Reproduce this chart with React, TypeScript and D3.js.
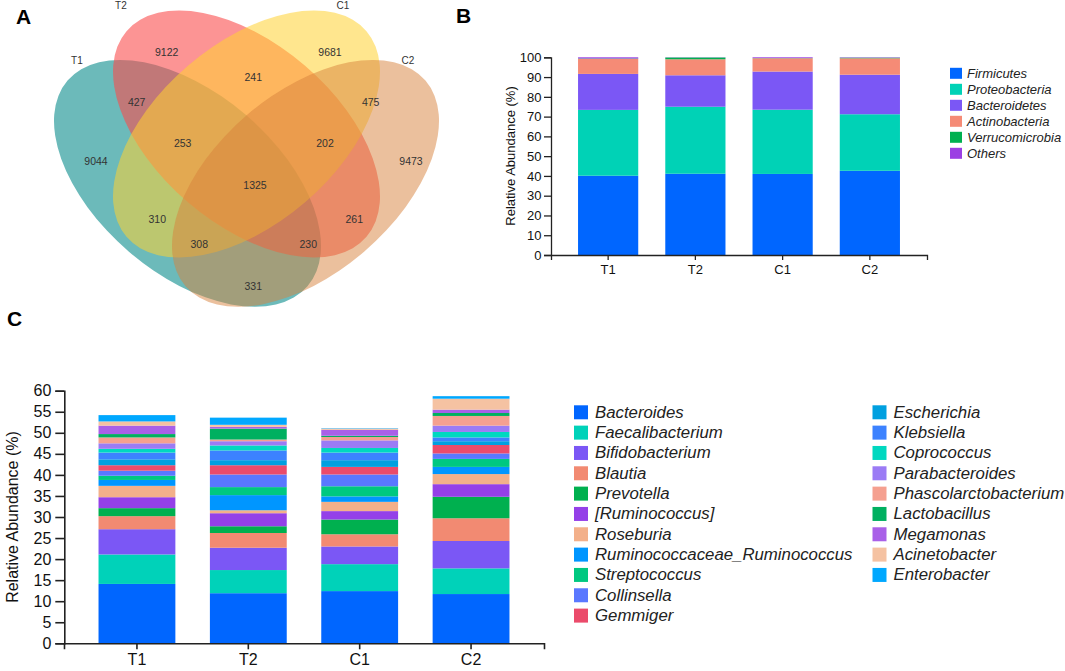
import React, { useEffect, useRef } from 'react';
import * as d3 from 'd3';

const W = 1065;
const H = 671;
const FONT = "'Liberation Sans', Arial, Helvetica, sans-serif";

const groups = ['T1', 'T2', 'C1', 'C2'];

// ---- panel A: 4-set venn (unit coords, y up) ----
const vennSets = ['T1', 'T2', 'C1', 'C2'];
const vennColors = ['#2D9C9C', '#FA4D4D', '#FFD232', '#D7823C'];
const vennOpacity = [0.7, 0.6, 0.55, 0.5];
const vennCx = [0.3525, 0.5, 0.5, 0.6475];
const vennCy = [0.3765, 0.5, 0.5, 0.3765];
const vennRot = [40.6, 40.6, -40.6, -40.6];
const vennRx = 0.395;
const vennRy = 0.225;
const vennSetLabelX = [0.076, 0.186, 0.7413, 0.9038];
const vennSetLabelY = [0.685, 0.8225, 0.8225, 0.685];
const vennCounts = [9122, 9681, 241, 427, 475, 9044, 9473, 253, 202, 1325, 310, 261, 308, 230, 331];
const vennCountX = [0.3005, 0.7088, 0.517, 0.2255, 0.8105, 0.1238, 0.9113, 0.3405, 0.6963, 0.5213, 0.277, 0.7695, 0.382, 0.6545, 0.517];
const vennCountY = [0.7058, 0.7058, 0.643, 0.5808, 0.5808, 0.4333, 0.4333, 0.4768, 0.4768, 0.3725, 0.2875, 0.2875, 0.225, 0.225, 0.1208];

// ---- panel B: phylum level (%) ----
const phyla = ['Firmicutes', 'Proteobacteria', 'Bacteroidetes', 'Actinobacteria', 'Verrucomicrobia', 'Others'];
const phylumColors = ['#0066FF', '#00D2B6', '#7B57F5', '#F58B76', '#00B050', '#9B3FE3'];
const firmicutes = [40.1, 41.1, 41.0, 42.6];
const proteobacteria = [33.3, 33.9, 32.5, 28.6];
const bacteroidetes = [18.2, 15.9, 19.3, 20.0];
const actinobacteria = [7.6, 8.1, 6.7, 8.3];
const verrucomicrobia = [0.2, 0.9, 0.1, 0.3];
const othersPhylum = [0.6, 0.1, 0.4, 0.2];
const phylumValues = [firmicutes, proteobacteria, bacteroidetes, actinobacteria, verrucomicrobia, othersPhylum];
const phylumTicks = d3.range(0, 101, 10);

// ---- panel C: genus level (%) ----
const genera = [
	'Bacteroides', 'Faecalibacterium', 'Bifidobacterium', 'Blautia', 'Prevotella',
	'[Ruminococcus]', 'Roseburia', 'Ruminococcaceae_Ruminococcus', 'Streptococcus', 'Collinsella',
	'Gemmiger', 'Escherichia', 'Klebsiella', 'Coprococcus', 'Parabacteroides',
	'Phascolarctobacterium', 'Lactobacillus', 'Megamonas', 'Acinetobacter', 'Enterobacter',
];
const genusColors = [
	'#0066FF', '#00D2B9', '#7B57F5', '#F28A72', '#00B04F',
	'#9440E8', '#F3B08A', '#0096FF', '#00C880', '#5A78FF',
	'#EB4B6B', '#00A0E0', '#3C82FF', '#00D8C0', '#9B7BF5',
	'#F5A090', '#00B060', '#A960E8', '#F5C2A2', '#00A8FF',
];
const bacteroides = [14.1, 11.9, 12.4, 11.7];
const faecalibacterium = [7.0, 5.5, 6.4, 6.1];
const bifidobacterium = [6.0, 5.3, 4.2, 6.5];
const blautia = [3.1, 3.5, 2.9, 5.4];
const prevotella = [1.9, 1.6, 3.5, 5.1];
const ruminococcus = [2.6, 3.1, 2.0, 3.0];
const roseburia = [2.7, 0.7, 2.2, 2.4];
const ruminococcaceaeRum = [1.4, 3.6, 1.3, 1.7];
const streptococcus = [1.0, 1.9, 2.4, 1.9];
const collinsella = [1.2, 3.0, 2.8, 1.3];
const gemmiger = [1.3, 2.2, 1.8, 2.0];
const escherichia = [1.4, 1.2, 1.6, 0.9];
const klebsiella = [1.6, 2.3, 1.8, 0.9];
const coprococcus = [0.9, 1.2, 1.1, 1.3];
const parabacteroides = [1.3, 1.0, 1.8, 1.5];
const phascolarctobacterium = [1.4, 0.4, 0.8, 2.3];
const lactobacillus = [0.8, 2.6, 0.3, 0.7];
const megamonas = [2.0, 0.4, 1.4, 0.8];
const acinetobacter = [1.0, 0.5, 0.3, 2.6];
const enterobacter = [1.5, 1.7, 0.1, 0.6];
const genusValues = [
	bacteroides, faecalibacterium, bifidobacterium, blautia, prevotella,
	ruminococcus, roseburia, ruminococcaceaeRum, streptococcus, collinsella,
	gemmiger, escherichia, klebsiella, coprococcus, parabacteroides,
	phascolarctobacterium, lactobacillus, megamonas, acinetobacter, enterobacter,
];
const genusTicks = d3.range(0, 61, 5);

function buildRows(keys: string[], values: number[][]) {
	return groups.map((g, i) => {
		const row: any = { group: g };
		keys.forEach((k, j) => (row[k] = values[j][i]));
		return row;
	});
}

function styleAxis(g: any, size: number, sw: number) {
	g.attr('font-family', FONT).attr('font-size', size).attr('color', '#222');
	g.selectAll('path,line').attr('stroke-width', sw);
	g.selectAll('text').attr('fill', '#111');
}

const App: React.FC = () => {
	const ref = useRef<SVGSVGElement>(null);

	useEffect(() => {
		if (!ref.current) return;
		const svg = d3.select(ref.current);
		svg.selectAll('*').remove();
		svg.attr('font-family', FONT);

		// --- A: venn ---
		const vx = d3.scaleLinear().domain([0, 1]).range([46.5, 446.5]);
		const vy = d3.scaleLinear().domain([0, 1]).range([334, -66]);
		const unit = vx(1) - vx(0);
		const gA = svg.append('g');
		vennSets.forEach((s, i) => {
			const cx = vx(vennCx[i]);
			const cy = vy(vennCy[i]);
			gA.append('ellipse')
				.attr('cx', cx)
				.attr('cy', cy)
				.attr('rx', vennRx * unit)
				.attr('ry', vennRy * unit)
				.attr('transform', `rotate(${vennRot[i]},${cx},${cy})`)
				.attr('fill', vennColors[i])
				.attr('fill-opacity', vennOpacity[i]);
		});
		vennSets.forEach((s, i) => {
			gA.append('text')
				.attr('x', vx(vennSetLabelX[i]))
				.attr('y', vy(vennSetLabelY[i]))
				.attr('text-anchor', 'middle')
				.attr('dominant-baseline', 'central')
				.attr('font-size', 10)
				.attr('fill', '#333')
				.text(s);
		});
		vennCounts.forEach((c, i) => {
			gA.append('text')
				.attr('x', vx(vennCountX[i]))
				.attr('y', vy(vennCountY[i]))
				.attr('text-anchor', 'middle')
				.attr('dominant-baseline', 'central')
				.attr('font-size', 10.5)
				.attr('fill', '#333')
				.text(c);
		});

		// --- B: phylum stacked bars ---
		const xB = d3.scaleBand().domain(groups).range([551, 927]).paddingInner(0.31).paddingOuter(0.31);
		const yB = d3.scaleLinear().domain([0, 100]).range([255, 57.3]);
		const stackB = d3.stack<any>().keys(phyla)(buildRows(phyla, phylumValues));
		const gB = svg.append('g');
		stackB.forEach((layer, li) => {
			gB.append('g')
				.attr('fill', phylumColors[li])
				.selectAll('rect')
				.data(layer)
				.join('rect')
				.attr('x', (d: any) => xB(d.data.group) ?? 0)
				.attr('width', xB.bandwidth())
				.attr('y', (d: any) => yB(d[1]))
				.attr('height', (d: any) => yB(d[0]) - yB(d[1]));
		});
		const axBy = gB.append('g').attr('transform', `translate(551,0)`)
			.call(d3.axisLeft(yB).tickValues(phylumTicks).tickSize(7).tickPadding(2.5));
		styleAxis(axBy, 13, 1.3);
		const axBx = gB.append('g').attr('transform', `translate(0,255)`)
			.call(d3.axisBottom(xB).tickSize(5).tickSizeOuter(5).tickPadding(5));
		styleAxis(axBx, 13, 1.3);
		gB.append('text')
			.attr('transform', `translate(510,156) rotate(-90)`)
			.attr('text-anchor', 'middle')
			.attr('dominant-baseline', 'central')
			.attr('font-size', 13)
			.attr('fill', '#111')
			.text('Relative Abundance (%)');
		const legB = gB.append('g').selectAll('g').data(phyla).join('g')
			.attr('transform', (d, i) => `translate(950,${73.3 + i * 16})`);
		legB.append('rect').attr('x', 0).attr('y', -5.5).attr('width', 12).attr('height', 11)
			.attr('fill', (d, i) => phylumColors[i]);
		legB.append('text').attr('x', 17).attr('y', 0).attr('dominant-baseline', 'central')
			.attr('font-size', 13).attr('font-style', 'italic').attr('fill', '#222').text((d) => d);

		// --- C: genus stacked bars ---
		const xC = d3.scaleBand().domain(groups).range([64, 544]).paddingInner(0.31).paddingOuter(0.31);
		const yC = d3.scaleLinear().domain([0, 60]).range([643.3, 390.7]);
		const stackC = d3.stack<any>().keys(genera)(buildRows(genera, genusValues));
		const gC = svg.append('g');
		stackC.forEach((layer, li) => {
			gC.append('g')
				.attr('fill', genusColors[li])
				.selectAll('rect')
				.data(layer)
				.join('rect')
				.attr('x', (d: any) => xC(d.data.group) ?? 0)
				.attr('width', xC.bandwidth())
				.attr('y', (d: any) => yC(d[1]))
				.attr('height', (d: any) => yC(d[0]) - yC(d[1]));
		});
		const axCy = gC.append('g').attr('transform', `translate(64.3,0)`)
			.call(d3.axisLeft(yC).tickValues(genusTicks).tickSize(9).tickPadding(4));
		styleAxis(axCy, 16, 1.6);
		const axCx = gC.append('g').attr('transform', `translate(0,643.3)`)
			.call(d3.axisBottom(xC).tickSize(6).tickSizeOuter(6).tickPadding(4));
		styleAxis(axCx, 16, 1.6);
		gC.append('text')
			.attr('transform', `translate(12,517) rotate(-90)`)
			.attr('text-anchor', 'middle')
			.attr('dominant-baseline', 'central')
			.attr('font-size', 16)
			.attr('fill', '#111')
			.text('Relative Abundance (%)');
		const perCol = 11;
		const legC = gC.append('g').selectAll('g').data(genera).join('g')
			.attr('transform', (d, i) =>
				`translate(${i < perCol ? 574 : 872.5},${412.3 + (i % perCol) * 20.33})`);
		legC.append('rect').attr('x', 0).attr('y', -7).attr('width', 14).attr('height', 14)
			.attr('fill', (d, i) => genusColors[i]);
		legC.append('text').attr('x', 21).attr('y', 0).attr('dominant-baseline', 'central')
			.attr('font-size', 16.8).attr('font-style', 'italic').attr('fill', '#222').text((d) => d);

		// --- panel letters ---
		const letters = [
			{ t: 'A', x: 16, y: 24 },
			{ t: 'B', x: 456, y: 23 },
			{ t: 'C', x: 7, y: 326 },
		];
		svg.append('g').selectAll('text').data(letters).join('text')
			.attr('x', (d) => d.x)
			.attr('y', (d) => d.y)
			.attr('font-size', 21)
			.attr('font-weight', 'bold')
			.attr('fill', '#000')
			.text((d) => d.t);
	}, []);

	return (
		<div style={{ position: 'absolute', left: 0, top: 0, background: '#fff' }}>
			<svg ref={ref} width={W} height={H} style={{ display: 'block' }}></svg>
		</div>
	);
};

export default App;
